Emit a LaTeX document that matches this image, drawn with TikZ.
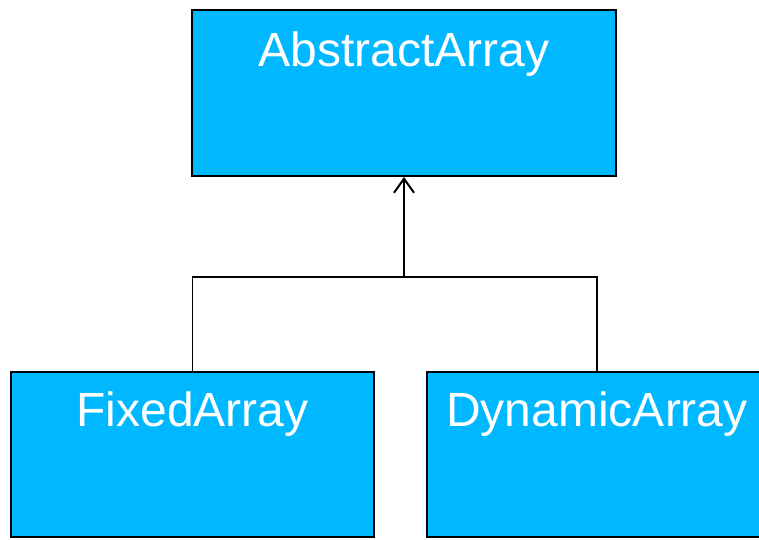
\documentclass[tikz,border=0pt]{standalone}
\usepackage{fontspec}
\setmainfont{Liberation Sans}
\usepackage{tikz}
\usetikzlibrary{arrows.meta}

\definecolor{boxblue}{RGB}{0,184,255}

\begin{document}
\begin{tikzpicture}
            [x=1pt,y=1pt,
             classbox/.style={rectangle,draw=black,fill=boxblue,line width=2pt,inner sep=0pt},
             classname/.style={anchor=base,text=white,inner sep=0pt,font=\fontsize{48}{48}\selectfont}]
            \useasboundingbox (0,0) rectangle (759,-539);
            \node[classbox,minimum width=424pt,minimum height=166pt] (abstract) at (404,-93) {};
            \node[classbox,minimum width=363pt,minimum height=165pt] (fixed) at (192.5,-454.5) {};
            \node[classbox,minimum width=340pt,minimum height=165pt] (dynamic) at (597,-454.5) {};
            %
            \node[classname] (abstractname) at ([yshift=-57pt]abstract.north) {AbstractArray};
            \node[classname] (fixedname) at ([yshift=-55pt]fixed.north) {FixedArray};
            \node[classname] (dynamicname) at ([yshift=-55pt]dynamic.north) {DynamicArray};
            %
            \coordinate (branch) at (404,-277);
            \draw[line width=1.5pt] (fixed.north) |- (branch) -| (dynamic.north);
            \draw[line width=2pt,-{Straight Barb[length=14pt,width=20pt]}] (branch) -- (abstract.south);
        \end{tikzpicture}
\end{document}
